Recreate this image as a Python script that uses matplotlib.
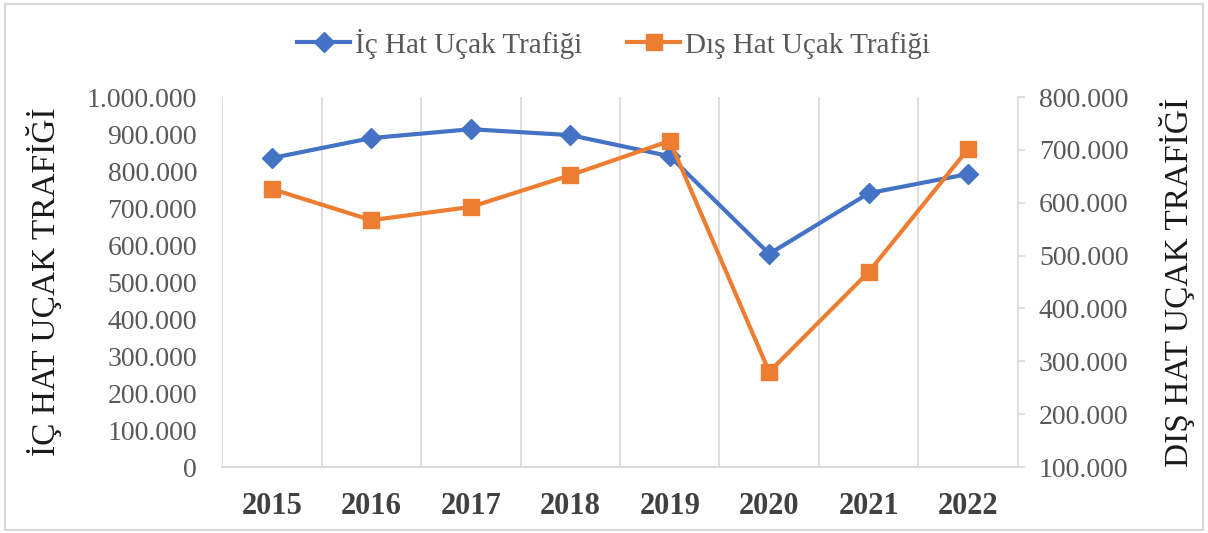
import matplotlib
matplotlib.use('Agg')
import matplotlib.pyplot as plt
import numpy as np

# values
years = ['2015', '2016', '2017', '2018', '2019', '2020', '2021', '2022']
ic_hat = [835000, 889000, 913000, 897000, 840000, 576000, 740000, 792000]
dis_hat = [626000, 567000, 592000, 652000, 717000, 280000, 469000, 702000]

left_ticks = np.arange(0, 1000001, 100000)
right_ticks = np.arange(100000, 800001, 100000)

def dotted(v, pos=None):
    # turkish thousands separator
    return '{:,.0f}'.format(v).replace(',', '.')

plt.rcParams['font.family'] = ['Liberation Serif', 'DejaVu Serif']

fig = plt.figure(figsize=(12.08, 5.33), dpi=100)
ax = fig.add_axes([0.1838, 0.1238, 0.6589, 0.6942])
ax2 = ax.twinx()

x = np.arange(len(years))
blue = '#4472C4'
orange = '#ED7D31'
grey = '#D9D9D9'

l1, = ax.plot(x, ic_hat, color=blue, lw=3, marker='D', ms=10,
              label='İç Hat Uçak Trafiği')
l2, = ax2.plot(x, dis_hat, color=orange, lw=3, marker='s', ms=11,
               label='Dış Hat Uçak Trafiği')

ax.set_xlim(-0.5, len(years) - 0.5)
ax.set_ylim(0, 1000000)
ax2.set_ylim(100000, 800000)

ax.set_xticks(x)
ax.set_xticklabels(years, fontsize=22, fontweight='bold', color='#404040')
ax.set_xticks(np.arange(-0.5, len(years) - 0.5, 1), minor=True)
ax.grid(which='minor', axis='x', color=grey, lw=1.2)
ax.tick_params(axis='x', which='both', length=0, pad=18)

ax.set_yticks(left_ticks)
ax.yaxis.set_major_formatter(plt.FuncFormatter(dotted))
ax.tick_params(axis='y', length=0, labelsize=20, labelcolor='#595959', pad=18)

ax2.set_yticks(right_ticks)
ax2.yaxis.set_major_formatter(plt.FuncFormatter(dotted))
ax2.tick_params(axis='y', length=5, width=1.2, color=grey, labelsize=20,
                labelcolor='#595959', pad=10)

for a in (ax, ax2):
    for s in ['top', 'left', 'right']:
        a.spines[s].set_visible(False)
    a.spines['bottom'].set_color(grey)
    a.spines['bottom'].set_linewidth(1.2)
ax2.spines['right'].set_visible(True)
ax2.spines['right'].set_color(grey)
ax2.spines['right'].set_linewidth(1.2)

ax.set_ylabel('İÇ HAT UÇAK TRAFİĞİ', fontsize=24, color='#1a1a1a', labelpad=18)
ax2.set_ylabel('DIŞ HAT UÇAK TRAFİĞİ', fontsize=24, color='#1a1a1a', labelpad=22)

fig.legend(handles=[l1, l2], loc='center', bbox_to_anchor=(0.508, 0.918),
           ncol=2, frameon=False, fontsize=21, handlelength=1.8,
           columnspacing=1.55, handletextpad=0.17, labelcolor='#595959')

# light frame around the whole chart
fig.patches.append(plt.Rectangle((0.004, 0.006), 0.992, 0.986, fill=False,
                                 edgecolor=grey, lw=1.5,
                                 transform=fig.transFigure, figure=fig))

fig.savefig('out.png', dpi=100)
